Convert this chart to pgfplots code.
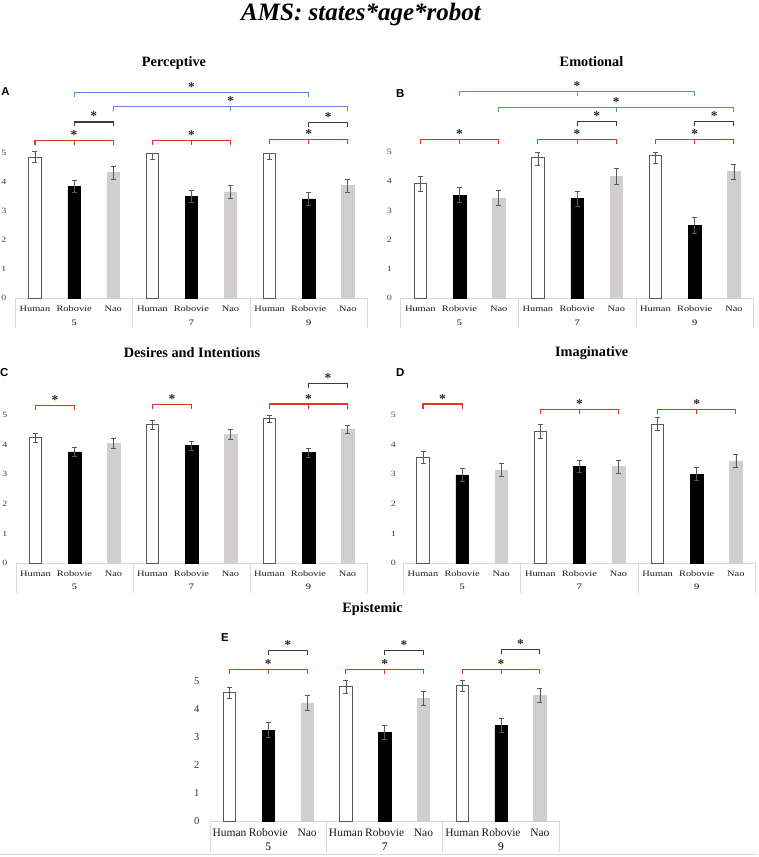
\documentclass[border=0pt]{standalone}
\usepackage{fontspec}
\setmainfont{Liberation Serif}
\newfontfamily\sansb{Liberation Sans}
\newfontfamily\catfont[FakeStretch=1.25]{Liberation Serif}
\usepackage{pgfplots}
\pgfplotsset{compat=1.18}

\definecolor{humedge}{HTML}{595959}
\definecolor{naofill}{HTML}{D0CECE}
\definecolor{errcol}{HTML}{595959}
\definecolor{sigred}{HTML}{E0352B}
\definecolor{sigblue}{HTML}{5B8AD2}
\definecolor{sigblack}{HTML}{3A3A3A}
\definecolor{catline}{HTML}{D9D9D9}

\newcommand{\brk}[4]{%
  \draw[#1, line width=1.1pt] ([yshift=-4.5pt]axis cs:#2,#4) -- (axis cs:#2,#4) -- (axis cs:#3,#4) -- ([yshift=-4.5pt]axis cs:#3,#4);}
\newcommand{\midtick}[3]{%
  \draw[#1, line width=1.1pt] (axis cs:#2,#3) -- ([yshift=-4.5pt]axis cs:#2,#3);}
\newcommand{\sigstar}[2]{%
  \node[font=\fontsize{13.5}{13.5}\selectfont\bfseries, inner sep=0pt, text=black!85] at ([yshift=5.5pt]axis cs:#1,#2) {*};}
\newcommand{\catbox}[1]{%
  \draw[catline, line width=0.8pt] (axis cs:-0.5,0) -- (axis cs:8.5,0);
  \draw[catline, line width=0.8pt] (axis cs:-0.5,0) -- ([yshift=-#1]axis cs:-0.5,0);
  \draw[catline, line width=0.8pt] (axis cs:2.5,0) -- ([yshift=-#1]axis cs:2.5,0);
  \draw[catline, line width=0.8pt] (axis cs:5.5,0) -- ([yshift=-#1]axis cs:5.5,0);
  \draw[catline, line width=0.8pt] (axis cs:8.5,0) -- ([yshift=-#1]axis cs:8.5,0);}
\newcommand{\ages}[2]{%
  \node[anchor=base, font=#2] at ([yshift=#1]axis cs:1,0) {5};
  \node[anchor=base, font=#2] at ([yshift=#1]axis cs:4,0) {7};
  \node[anchor=base, font=#2] at ([yshift=#1]axis cs:7,0) {9};}

\pgfplotsset{
  panel/.style={
    scale only axis, anchor=south west, xmin=-0.5, xmax=8.5, ymin=0,
    axis line style={draw=none}, major tick length=0pt, tick style={draw=none}, clip=false,
    xtick={0,...,8},
    xticklabels={Human,Robovie,Nao,Human,Robovie,Nao,Human,Robovie,Nao},
    ytick={0,...,5},
    /pgf/number format/assume math mode=true,
    yticklabel style={anchor=center},
    xticklabel style={anchor=base},
  },
  smallfonts/.style={
    yticklabel style={font=\catfont\fontsize{8}{9}\selectfont, text=black!75},
    xticklabel style={font=\catfont\fontsize{8.3}{9}\selectfont, text=black!90},
  },
  bigfonts/.style={
    yticklabel style={font=\fontsize{10.5}{11}\selectfont, text=black!80},
    xticklabel style={font=\fontsize{11.5}{12}\selectfont, text=black!90},
  },
  ebars/.style={
    /pgfplots/error bars/y dir=both,
    /pgfplots/error bars/y explicit,
    /pgfplots/error bars/error bar style={errcol, line width=0.6pt},
    /pgfplots/error bars/error mark options={errcol, rotate=90, mark size=2.5pt, line width=0.6pt},
  },
  hum/.style={ybar, bar shift=0pt, bar width=12.5pt, fill=white, draw=humedge, line width=1pt, ebars},
  rob/.style={ybar, bar shift=0pt, bar width=12.5pt, fill=black, draw=black, line width=0.5pt, ebars},
  nao/.style={ybar, bar shift=0pt, bar width=12.5pt, fill=naofill, draw=naofill, line width=0.5pt, ebars},
}

\begin{document}
\begin{tikzpicture}
\useasboundingbox (0,0) rectangle (758pt,-857pt);

\node[anchor=base, font=\fontsize{25}{30}\selectfont\bfseries\itshape] at (361pt,-20.7pt) {AMS: states*age*robot};

\node[anchor=base, font=\fontsize{14.3}{16}\selectfont\bfseries] at (174pt,-66.5pt) {Perceptive};
\node[anchor=base, font=\fontsize{14.3}{16}\selectfont\bfseries] at (591.5pt,-66.5pt) {Emotional};
\node[anchor=base, font=\fontsize{14.3}{16}\selectfont\bfseries] at (192pt,-357.3pt) {Desires and Intentions};
\node[anchor=base, font=\fontsize{14.3}{16}\selectfont\bfseries] at (591.7pt,-356.7pt) {Imaginative};
\node[anchor=base, font=\fontsize{14.3}{16}\selectfont\bfseries] at (372.6pt,-612.7pt) {Epistemic};

\node[anchor=center, font=\sansb\fontsize{11.5}{12}\selectfont\bfseries] at (5.5pt,-92pt) {A};
\node[anchor=center, font=\sansb\fontsize{11.5}{12}\selectfont\bfseries] at (400.3pt,-94pt) {B};
\node[anchor=west, inner sep=0pt, font=\sansb\fontsize{11.5}{12}\selectfont\bfseries] at (0pt,-373pt) {C};
\node[anchor=center, font=\sansb\fontsize{11.5}{12}\selectfont\bfseries] at (400.3pt,-373pt) {D};
\node[anchor=center, font=\sansb\fontsize{11.5}{12}\selectfont\bfseries] at (225pt,-637.5pt) {E};

\draw[catline, line width=0.8pt] (0pt,-854.5pt) -- (758pt,-854.5pt);

% ---------------- Panel A: Perceptive
\begin{axis}[panel, smallfonts, at={(15.45pt,-298.3pt)}, width=351.9pt, height=218.25pt, ymax=7.5,
  yticklabel style={xshift=-11.5pt}, xticklabel style={yshift=-12.7pt}]
\catbox{30pt}
\ages{-27pt}{\catfont\fontsize{8.3}{9}\selectfont}
\addplot[hum] coordinates {(0,4.85) += (0,0.19) -= (0,0.19) (3,4.99) += (0,0.01) -= (0,0.22) (6,4.99) += (0,0.01) -= (0,0.22)};
\addplot[rob] coordinates {(1,3.84) +- (0,0.21) (4,3.50) +- (0,0.21) (7,3.42) +- (0,0.23)};
\addplot[nao] coordinates {(2,4.32) +- (0,0.22) (5,3.66) +- (0,0.23) (8,3.87) +- (0,0.23)};
\brk{sigred}{0}{2}{5.43}\midtick{sigred}{1}{5.43}\sigstar{1}{5.43}
\brk{sigred}{3}{5}{5.43}\midtick{sigred}{4}{5.43}\sigstar{4}{5.43}
\brk{sigred}{6}{8}{5.45}\midtick{sigred}{7}{5.45}\sigstar{7}{5.45}
\brk{sigblack}{1}{2}{6.06}\sigstar{1.5}{6.06}
\brk{sigblack}{7}{8}{6.05}\sigstar{7.5}{6.05}
\brk{sigblue}{1}{7}{7.08}\sigstar{4}{7.08}
\brk{sigblue}{2}{8}{6.58}\midtick{sigblue}{5}{6.58}\sigstar{5}{6.58}
\end{axis}

% ---------------- Panel B: Emotional
\begin{axis}[panel, smallfonts, at={(400.7pt,-298.3pt)}, width=352.8pt, height=219.75pt, ymax=7.5,
  yticklabel style={xshift=-11.4pt}, xticklabel style={yshift=-12.7pt}]
\catbox{30pt}
\ages{-27pt}{\catfont\fontsize{8.3}{9}\selectfont}
\addplot[hum] coordinates {(0,3.91) += (0,0.27) -= (0,0.27) (3,4.81) += (0,0.19) -= (0,0.26) (6,4.89) += (0,0.11) -= (0,0.28)};
\addplot[rob] coordinates {(1,3.52) +- (0,0.26) (4,3.40) +- (0,0.26) (7,2.50) +- (0,0.27)};
\addplot[nao] coordinates {(2,3.43) +- (0,0.25) (5,4.15) +- (0,0.27) (8,4.32) +- (0,0.26)};
\brk{sigred}{0}{2}{5.43}\midtick{sigred}{1}{5.43}\sigstar{1}{5.43}
\brk{sigred}{3}{5}{5.43}\midtick{sigred}{4}{5.43}\sigstar{4}{5.43}
\brk{sigred}{6}{8}{5.43}\midtick{sigred}{7}{5.43}\sigstar{7}{5.43}
\brk{sigblack}{4}{5}{6.02}\sigstar{4.5}{6.02}
\brk{sigblack}{7}{8}{6.02}\sigstar{7.5}{6.02}
\brk{sigblue}{1}{7}{7.05}\midtick{sigblue}{4}{7.05}\sigstar{4}{7.05}
\brk{sigblue}{2}{8}{6.50}\midtick{sigblue}{5}{6.50}\sigstar{5}{6.50}
\end{axis}

% ---------------- Panel C: Desires and Intentions
\begin{axis}[panel, smallfonts, at={(16pt,-563.3pt)}, width=351pt, height=207.6pt, ymax=7,
  yticklabel style={xshift=-11pt}, xticklabel style={yshift=-12.7pt}]
\catbox{30pt}
\ages{-26.5pt}{\catfont\fontsize{8.3}{9}\selectfont}
\addplot[hum] coordinates {(0,4.23) +- (0,0.16) (3,4.67) +- (0,0.15) (6,4.87) +- (0,0.13)};
\addplot[rob] coordinates {(1,3.76) +- (0,0.15) (4,3.97) +- (0,0.16) (7,3.74) +- (0,0.15)};
\addplot[nao] coordinates {(2,4.05) +- (0,0.16) (5,4.35) +- (0,0.16) (8,4.52) +- (0,0.15)};
\brk{sigred}{0}{1}{5.31}\sigstar{0.5}{5.31}
\brk{sigred}{3}{4}{5.34}\sigstar{3.5}{5.34}
\brk{sigred}{6}{8}{5.37}\midtick{sigred}{7}{5.37}\sigstar{7}{5.37}
\brk{sigblack}{7}{8}{6.05}\sigstar{7.5}{6.05}
\end{axis}

% ---------------- Panel D: Imaginative
\begin{axis}[panel, smallfonts, at={(403.45pt,-563.3pt)}, width=351.9pt, height=207.6pt, ymax=7,
  yticklabel style={xshift=-10.2pt}, xticklabel style={yshift=-12.7pt}]
\catbox{30pt}
\ages{-26.5pt}{\catfont\fontsize{8.3}{9}\selectfont}
\addplot[hum] coordinates {(0,3.57) +- (0,0.20) (3,4.46) +- (0,0.23) (6,4.69) +- (0,0.22)};
\addplot[rob] coordinates {(1,2.98) +- (0,0.22) (4,3.28) +- (0,0.21) (7,3.01) +- (0,0.22)};
\addplot[nao] coordinates {(2,3.15) +- (0,0.22) (5,3.26) +- (0,0.22) (8,3.45) +- (0,0.22)};
\brk{sigred}{0}{1}{5.37}\sigstar{0.5}{5.37}
\brk{sigred}{3}{5}{5.20}\midtick{sigred}{4}{5.20}\sigstar{4}{5.20}
\brk{sigred}{6}{8}{5.20}\midtick{sigred}{7}{5.20}\sigstar{7}{5.20}
\end{axis}

% ---------------- Panel E: Epistemic
\begin{axis}[panel, bigfonts, at={(210.1pt,-821pt)}, width=349.2pt, height=196.5pt, ymax=7,
  yticklabel style={xshift=-13.4pt}, xticklabel style={yshift=-15.5pt}]
\catbox{31pt}
\ages{-29.5pt}{\fontsize{11.5}{12}\selectfont}
\addplot[hum] coordinates {(0,4.58) +- (0,0.20) (3,4.78) +- (0,0.23) (6,4.82) +- (0,0.21)};
\addplot[rob] coordinates {(1,3.24) +- (0,0.27) (4,3.16) +- (0,0.24) (7,3.42) +- (0,0.25)};
\addplot[nao] coordinates {(2,4.21) +- (0,0.28) (5,4.37) +- (0,0.25) (8,4.49) +- (0,0.25)};
\brk{sigred}{0}{2}{5.41}\midtick{sigred}{1}{5.41}\sigstar{1}{5.41}
\brk{sigred}{3}{5}{5.41}\midtick{sigred}{4}{5.41}\sigstar{4}{5.41}
\brk{sigred}{6}{8}{5.41}\midtick{sigred}{7}{5.41}\sigstar{7}{5.41}
\brk{sigblack}{1}{2}{6.07}\sigstar{1.5}{6.07}
\brk{sigblack}{4}{5}{6.07}\sigstar{4.5}{6.07}
\brk{sigblack}{7}{8}{6.10}\sigstar{7.5}{6.10}
\end{axis}
\end{tikzpicture}
\end{document}
